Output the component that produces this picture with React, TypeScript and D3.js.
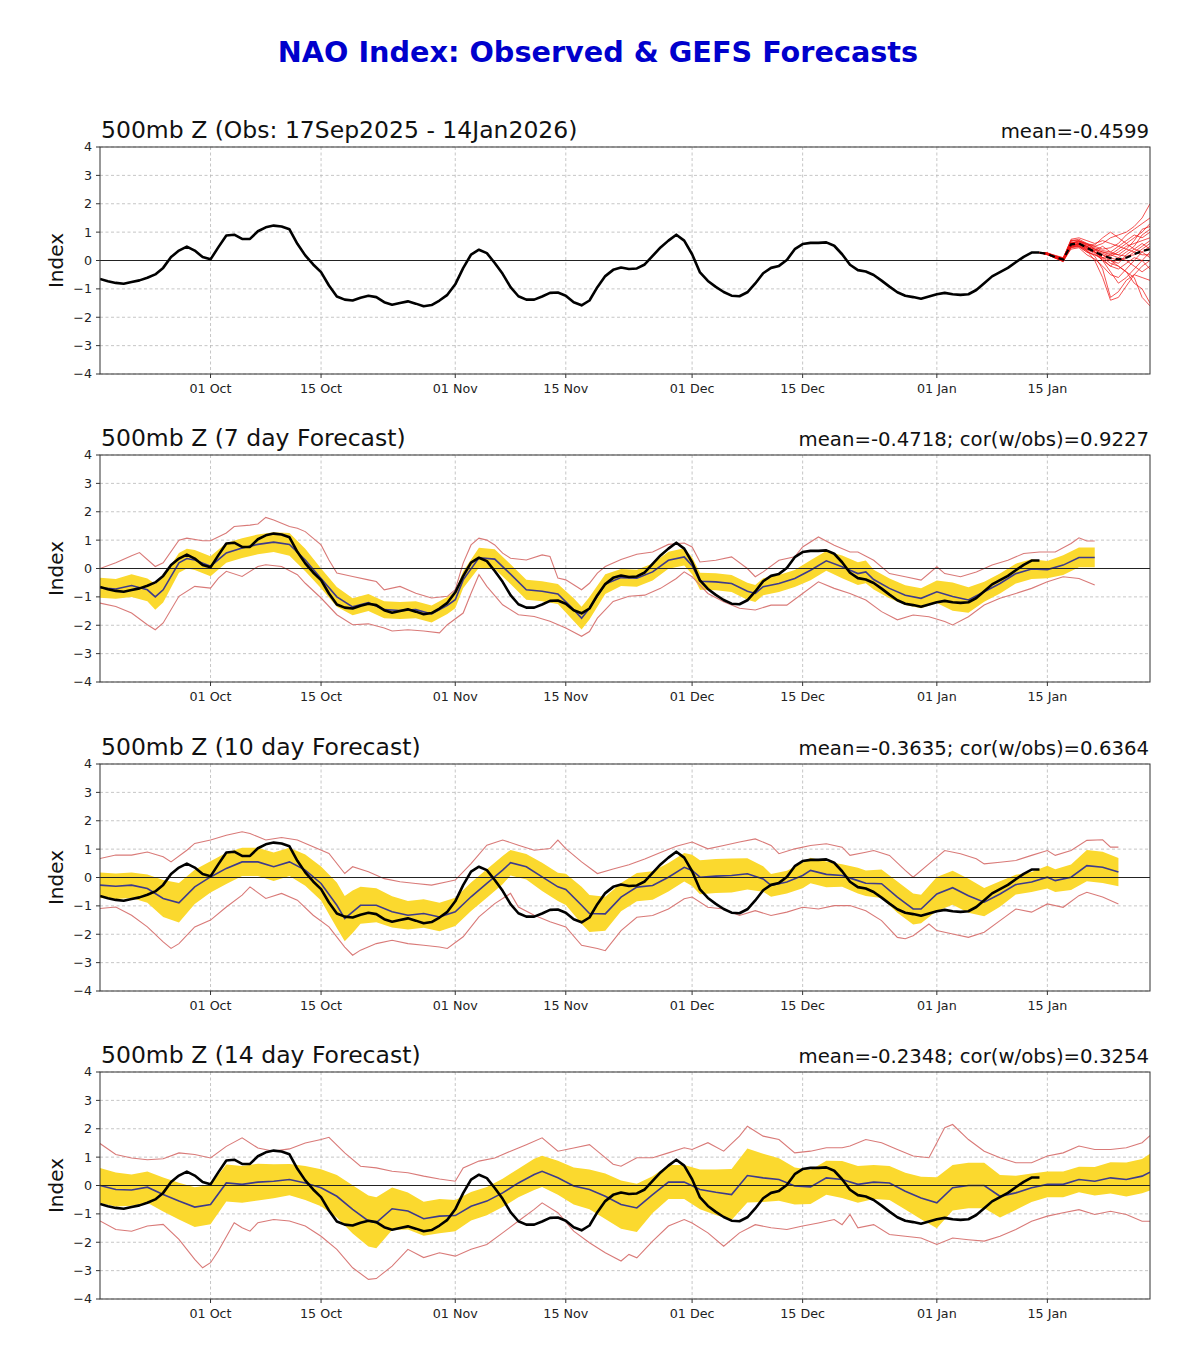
import React from "react";
import * as d3 from "d3";

type P = [string, number];
type B = [string, number, number];

// ---------- data ----------
const obsFirstDay = "09-17";
const obsValues = [
  // Sep 17-30
  -0.65, -0.73, -0.79, -0.82, -0.76, -0.7, -0.61, -0.49, -0.26, 0.12, 0.35, 0.49, 0.35, 0.12,
  // Oct
  0.04, 0.47, 0.88, 0.91, 0.76, 0.76, 1.03, 1.17, 1.23, 1.2, 1.1, 0.59, 0.18, -0.14, -0.41, -0.88,
  -1.27, -1.38, -1.41, -1.31, -1.24, -1.29, -1.47, -1.56, -1.5, -1.44, -1.52, -1.61, -1.57, -1.41, -1.21,
  // Nov
  -0.84, -0.27, 0.21, 0.38, 0.26, -0.09, -0.47, -0.94, -1.26, -1.38, -1.38, -1.27, -1.14, -1.13, -1.24,
  -1.47, -1.58, -1.41, -0.94, -0.55, -0.33, -0.25, -0.3, -0.28, -0.14, 0.16, 0.46, 0.7, 0.91, 0.7,
  // Dec
  0.22, -0.42, -0.72, -0.93, -1.11, -1.24, -1.26, -1.12, -0.81, -0.45, -0.26, -0.19, 0.02, 0.4, 0.58,
  0.62, 0.62, 0.64, 0.52, 0.22, -0.15, -0.34, -0.39, -0.51, -0.71, -0.92, -1.12, -1.24, -1.29, -1.35, -1.27,
  // Jan 1-14
  -1.19, -1.14, -1.19, -1.21, -1.19, -1.04, -0.8, -0.56, -0.41, -0.26, -0.06, 0.13, 0.28, 0.28,
];

const ensDays = ["01-14", "01-15", "01-16", "01-17", "01-18", "01-19", "01-20", "01-21", "01-22", "01-23", "01-24", "01-25", "01-26", "01-27", "01-28"];
const ensMembers: number[][] = [
  [0.28, 0.25, 0.12, 0.02, 0.55, 0.6, 0.45, 0.3, 0.2, 0.1, 0.0, 0.1, 0.3, 0.5, 0.7],
  [0.28, 0.22, 0.15, 0.05, 0.6, 0.7, 0.55, 0.5, 0.6, 0.8, 0.9, 1.0, 1.2, 1.5, 2.0],
  [0.28, 0.2, 0.1, -0.05, 0.45, 0.55, 0.35, 0.0, -0.6, -1.4, -1.3, -0.9, -0.5, -0.2, 0.0],
  [0.28, 0.26, 0.18, 0.1, 0.7, 0.75, 0.6, 0.4, 0.3, 0.2, 0.4, 0.6, 0.8, 1.0, 1.3],
  [0.28, 0.24, 0.08, 0.0, 0.5, 0.5, 0.3, 0.2, 0.05, -0.2, -0.3, -0.1, 0.1, 0.0, -0.3],
  [0.28, 0.23, 0.14, 0.08, 0.65, 0.6, 0.5, 0.4, 0.2, 0.0, -0.2, -0.4, -0.6, -1.3, -1.6],
  [0.28, 0.25, 0.1, 0.03, 0.58, 0.65, 0.55, 0.45, 0.35, 0.3, 0.5, 0.7, 0.9, 0.8, 1.0],
  [0.28, 0.21, 0.12, 0.0, 0.4, 0.45, 0.2, 0.05, -0.2, -0.5, -0.6, -0.3, 0.0, 0.3, 0.5],
  [0.28, 0.27, 0.16, 0.06, 0.75, 0.8, 0.7, 0.6, 0.7, 0.6, 0.5, 0.4, 0.3, 0.2, 0.2],
  [0.28, 0.22, 0.09, -0.02, 0.52, 0.58, 0.4, 0.3, 0.1, -0.1, -0.2, -0.4, -0.8, -1.0, -1.5],
  [0.28, 0.24, 0.13, 0.04, 0.62, 0.62, 0.48, 0.35, 0.25, 0.15, 0.3, 0.5, 0.6, 0.7, 0.8],
  [0.28, 0.2, 0.11, 0.01, 0.48, 0.52, 0.38, 0.25, 0.0, -0.2, 0.1, 0.3, 0.5, 0.9, 1.1],
  [0.28, 0.26, 0.15, 0.07, 0.68, 0.7, 0.58, 0.55, 0.8, 1.0, 0.8, 0.6, 0.4, 0.3, 0.1],
  [0.28, 0.23, 0.1, 0.02, 0.55, 0.5, 0.35, 0.15, -0.3, -1.3, -1.1, -0.7, -0.5, -0.6, -0.7],
  [0.28, 0.25, 0.14, 0.05, 0.6, 0.68, 0.6, 0.5, 0.4, 0.45, 0.6, 0.9, 1.1, 1.3, 1.5],
  [0.28, 0.21, 0.08, -0.03, 0.45, 0.48, 0.3, 0.2, 0.1, 0.2, 0.1, 0.0, -0.2, -0.4, -0.2],
  [0.28, 0.24, 0.12, 0.03, 0.57, 0.55, 0.42, 0.3, 0.1, 0.0, -0.1, 0.2, 0.4, 0.6, 0.4],
  [0.28, 0.22, 0.1, 0.0, 0.5, 0.6, 0.45, 0.35, 0.5, 0.3, 0.2, 0.4, 0.7, 1.1, 1.2],
  [0.28, 0.26, 0.17, 0.09, 0.72, 0.68, 0.5, 0.3, 0.0, -0.4, -0.8, -0.6, -0.3, 0.0, 0.3],
  [0.28, 0.23, 0.11, 0.02, 0.53, 0.58, 0.5, 0.4, 0.3, 0.25, 0.2, 0.15, 0.2, 0.4, 0.6],
];
const ensMean = [0.28, 0.23, 0.12, 0.03, 0.57, 0.6, 0.45, 0.3, 0.18, 0.08, 0.04, 0.1, 0.22, 0.33, 0.4];

const xTickDays = ["10-01", "10-15", "11-01", "11-15", "12-01", "12-15", "01-01", "01-15"];
const xTickLabels = ["01 Oct", "15 Oct", "01 Nov", "15 Nov", "01 Dec", "15 Dec", "01 Jan", "15 Jan"];
const yTicks = [-4, -3, -2, -1, 0, 1, 2, 3, 4];

const mainTitle = "NAO Index: Observed & GEFS Forecasts";
const panelTitles = [
  "500mb Z (Obs: 17Sep2025 - 14Jan2026)",
  "500mb Z (7 day Forecast)",
  "500mb Z (10 day Forecast)",
  "500mb Z (14 day Forecast)",
];
const panelStats = [
  "mean=-0.4599",
  "mean=-0.4718; cor(w/obs)=0.9227",
  "mean=-0.3635; cor(w/obs)=0.6364",
  "mean=-0.2348; cor(w/obs)=0.3254",
];

// [date, ensemble mean, spread half-width]
const fc7Mean: B[] = [
  ["09-17", -0.68, 0.35], ["09-19", -0.72, 0.35], ["09-21", -0.6, 0.4], ["09-23", -0.75, 0.4], ["09-24", -1.0, 0.45],
  ["09-25", -0.75, 0.45], ["09-27", 0.2, 0.35], ["09-28", 0.35, 0.35], ["09-29", 0.3, 0.35], ["10-01", 0.08, 0.35],
  ["10-03", 0.55, 0.35], ["10-05", 0.72, 0.35], ["10-07", 0.85, 0.35], ["10-09", 0.93, 0.35], ["10-11", 0.85, 0.4],
  ["10-13", 0.3, 0.4], ["10-15", -0.35, 0.35], ["10-17", -1.0, 0.35], ["10-19", -1.35, 0.3], ["10-21", -1.2, 0.3],
  ["10-23", -1.45, 0.3], ["10-25", -1.48, 0.3], ["10-27", -1.45, 0.3], ["10-29", -1.6, 0.3], ["10-31", -1.3, 0.3],
  ["11-01", -1.1, 0.3], ["11-02", -0.4, 0.3], ["11-04", 0.38, 0.35], ["11-06", 0.33, 0.35], ["11-08", -0.2, 0.35],
  ["11-10", -0.75, 0.35], ["11-12", -0.8, 0.35], ["11-14", -0.9, 0.35], ["11-16", -1.45, 0.4], ["11-17", -1.75, 0.4],
  ["11-18", -1.4, 0.4], ["11-20", -0.55, 0.35], ["11-22", -0.32, 0.3], ["11-24", -0.34, 0.3], ["11-26", -0.12, 0.3],
  ["11-28", 0.29, 0.3], ["11-30", 0.41, 0.3], ["12-01", 0.1, 0.3], ["12-02", -0.45, 0.3], ["12-04", -0.47, 0.3],
  ["12-06", -0.53, 0.3], ["12-08", -0.8, 0.3], ["12-09", -0.88, 0.3], ["12-10", -0.64, 0.3], ["12-12", -0.53, 0.3],
  ["12-14", -0.35, 0.3], ["12-16", -0.06, 0.35], ["12-18", 0.27, 0.35], ["12-20", 0.06, 0.4], ["12-22", -0.18, 0.4],
  ["12-23", -0.12, 0.4], ["12-24", -0.39, 0.35], ["12-26", -0.7, 0.35], ["12-28", -0.94, 0.35], ["12-30", -1.05, 0.35],
  ["01-01", -0.82, 0.4], ["01-03", -0.99, 0.5], ["01-05", -1.11, 0.45], ["01-07", -0.82, 0.35], ["01-09", -0.53, 0.35],
  ["01-11", -0.18, 0.35], ["01-13", -0.02, 0.35], ["01-15", -0.04, 0.3], ["01-17", 0.12, 0.35], ["01-19", 0.39, 0.35],
  ["01-21", 0.39, 0.35],
];
const fc7Max: P[] = [
  ["09-17", 0.0], ["09-19", 0.2], ["09-21", 0.45], ["09-22", 0.56], ["09-24", 0.07], ["09-25", 0.2], ["09-27", 1.0],
  ["09-28", 1.07], ["09-30", 0.98], ["10-01", 0.98], ["10-03", 1.25], ["10-04", 1.48], ["10-06", 1.53], ["10-07", 1.57],
  ["10-08", 1.8], ["10-09", 1.71], ["10-11", 1.48], ["10-12", 1.42], ["10-13", 1.3], ["10-15", 0.83], ["10-16", 0.3],
  ["10-17", -0.16], ["10-19", -0.28], ["10-21", -0.4], ["10-22", -0.46], ["10-23", -0.75], ["10-25", -0.63],
  ["10-27", -0.87], ["10-29", -1.04], ["10-31", -0.98], ["11-01", -0.75], ["11-02", 0.19], ["11-03", 0.83],
  ["11-04", 1.07], ["11-05", 1.0], ["11-06", 0.83], ["11-07", 0.54], ["11-08", 0.36], ["11-10", 0.3], ["11-12", 0.48],
  ["11-13", 0.42], ["11-14", -0.34], ["11-15", -0.4], ["11-16", -0.57], ["11-17", -0.75], ["11-18", -0.52],
  ["11-19", -0.16], ["11-20", 0.07], ["11-22", 0.32], ["11-24", 0.5], ["11-26", 0.58], ["11-28", 0.85], ["11-30", 0.9],
  ["12-01", 0.76], ["12-02", 0.23], ["12-04", 0.29], ["12-06", 0.41], ["12-08", 0.0], ["12-09", -0.29], ["12-10", -0.12],
  ["12-12", 0.29], ["12-14", 0.41], ["12-15", 0.76], ["12-17", 1.11], ["12-19", 0.82], ["12-21", 0.58], ["12-22", 0.58],
  ["12-24", 0.29], ["12-26", -0.18], ["12-28", -0.29], ["12-30", -0.41], ["01-01", 0.06], ["01-02", -0.18],
  ["01-04", -0.29], ["01-06", -0.12], ["01-08", 0.12], ["01-10", 0.29], ["01-12", 0.53], ["01-14", 0.58],
  ["01-16", 0.58], ["01-18", 0.88], ["01-19", 1.08], ["01-20", 0.97], ["01-21", 0.97],
];
const fc7Min: P[] = [
  ["09-17", -1.22], ["09-19", -1.34], ["09-21", -1.57], ["09-23", -1.98], ["09-24", -2.16], ["09-25", -1.92],
  ["09-27", -0.98], ["09-29", -0.63], ["10-01", -0.69], ["10-02", -0.34], ["10-03", -0.1], ["10-05", -0.28],
  ["10-07", 0.07], ["10-08", 0.13], ["10-10", 0.07], ["10-12", -0.22], ["10-13", -0.52], ["10-15", -1.04],
  ["10-17", -1.63], ["10-19", -1.98], ["10-21", -1.95], ["10-23", -2.1], ["10-24", -2.2], ["10-26", -2.16],
  ["10-28", -2.2], ["10-30", -2.27], ["10-31", -1.98], ["11-02", -1.57], ["11-03", -0.87], ["11-04", -0.22],
  ["11-05", -0.63], ["11-07", -1.28], ["11-09", -1.63], ["11-11", -1.69], ["11-13", -1.86], ["11-15", -2.1],
  ["11-17", -2.39], ["11-18", -2.22], ["11-19", -1.75], ["11-21", -1.16], ["11-23", -0.98], ["11-25", -0.94],
  ["11-27", -0.7], ["11-29", -0.35], ["11-30", -0.12], ["12-01", -0.29], ["12-03", -0.88], ["12-05", -1.17],
  ["12-07", -1.4], ["12-09", -1.46], ["12-11", -1.29], ["12-13", -1.29], ["12-15", -0.88], ["12-17", -0.47],
  ["12-19", -0.7], ["12-21", -0.88], ["12-23", -1.11], ["12-25", -1.52], ["12-27", -1.81], ["12-29", -1.64],
  ["12-31", -1.7], ["01-02", -1.87], ["01-03", -1.99], ["01-05", -1.7], ["01-07", -1.29], ["01-09", -1.05],
  ["01-11", -0.88], ["01-13", -0.7], ["01-15", -0.47], ["01-17", -0.29], ["01-19", -0.35], ["01-21", -0.58],
];

const fc10Mean: B[] = [
  ["09-17", -0.27, 0.45], ["09-19", -0.31, 0.45], ["09-21", -0.27, 0.45], ["09-23", -0.39, 0.5], ["09-25", -0.74, 0.65],
  ["09-27", -0.89, 0.7], ["09-29", -0.33, 0.6], ["10-01", 0.02, 0.55], ["10-03", 0.32, 0.55], ["10-05", 0.55, 0.5],
  ["10-07", 0.55, 0.5], ["10-09", 0.38, 0.5], ["10-11", 0.55, 0.5], ["10-13", 0.26, 0.55], ["10-15", -0.21, 0.6],
  ["10-17", -0.98, 0.8], ["10-18", -1.45, 0.8], ["10-19", -1.21, 0.75], ["10-20", -0.98, 0.65], ["10-22", -0.98, 0.6],
  ["10-24", -1.21, 0.55], ["10-26", -1.33, 0.5], ["10-28", -1.27, 0.5], ["10-30", -1.39, 0.5], ["11-01", -1.21, 0.5],
  ["11-03", -0.68, 0.5], ["11-05", -0.21, 0.5], ["11-07", 0.26, 0.5], ["11-08", 0.52, 0.45], ["11-10", 0.38, 0.45],
  ["11-12", 0.02, 0.5], ["11-14", -0.33, 0.5], ["11-15", -0.42, 0.55], ["11-17", -0.98, 0.65], ["11-18", -1.27, 0.65],
  ["11-20", -1.28, 0.6], ["11-22", -0.69, 0.5], ["11-24", -0.34, 0.5], ["11-26", -0.28, 0.5], ["11-28", 0.01, 0.5],
  ["11-30", 0.36, 0.5], ["12-01", 0.25, 0.55], ["12-02", 0.01, 0.6], ["12-04", 0.05, 0.6], ["12-06", 0.07, 0.6],
  ["12-08", 0.13, 0.55], ["12-10", -0.05, 0.45], ["12-11", -0.28, 0.4], ["12-13", -0.16, 0.4], ["12-15", 0.07, 0.45],
  ["12-16", 0.25, 0.45], ["12-18", 0.11, 0.45], ["12-20", 0.07, 0.4], ["12-22", -0.11, 0.45], ["12-23", -0.2, 0.45],
  ["12-25", -0.22, 0.5], ["12-27", -0.69, 0.55], ["12-29", -1.11, 0.55], ["12-30", -1.11, 0.5], ["01-01", -0.58, 0.6],
  ["01-03", -0.36, 0.6], ["01-05", -0.64, 0.6], ["01-07", -0.87, 0.5], ["01-09", -0.58, 0.45], ["01-11", -0.25, 0.35],
  ["01-13", -0.16, 0.35], ["01-15", 0.01, 0.4], ["01-16", -0.11, 0.4], ["01-18", 0.01, 0.45], ["01-20", 0.42, 0.55],
  ["01-22", 0.36, 0.55], ["01-24", 0.19, 0.5],
];
const fc10Max: P[] = [
  ["09-17", 0.67], ["09-19", 0.79], ["09-21", 0.79], ["09-23", 0.9], ["09-25", 0.73], ["09-26", 0.55], ["09-28", 0.96],
  ["09-29", 1.2], ["10-01", 1.32], ["10-03", 1.49], ["10-05", 1.61], ["10-06", 1.55], ["10-08", 1.32], ["10-10", 1.41],
  ["10-12", 1.32], ["10-14", 1.08], ["10-16", 0.85], ["10-18", 0.14], ["10-19", 0.38], ["10-21", 0.2], ["10-23", -0.04],
  ["10-25", -0.15], ["10-27", -0.21], ["10-29", -0.27], ["10-31", -0.15], ["11-01", -0.09], ["11-03", 0.49],
  ["11-05", 1.14], ["11-07", 1.32], ["11-09", 1.14], ["11-11", 0.96], ["11-13", 1.02], ["11-14", 1.32], ["11-15", 1.02],
  ["11-17", 0.55], ["11-19", 0.14], ["11-21", 0.3], ["11-23", 0.45], ["11-25", 0.65], ["11-27", 0.88], ["11-29", 1.1],
  ["12-01", 1.25], ["12-03", 1.01], ["12-05", 1.13], ["12-07", 1.25], ["12-09", 1.36], ["12-11", 1.13], ["12-12", 0.84],
  ["12-14", 1.01], ["12-16", 1.13], ["12-18", 1.19], ["12-20", 1.07], ["12-21", 0.78], ["12-23", 0.89], ["12-24", 0.95],
  ["12-26", 0.78], ["12-28", 0.25], ["12-29", 0.01], ["12-31", 0.48], ["01-02", 0.95], ["01-04", 0.84], ["01-06", 0.66],
  ["01-07", 0.48], ["01-09", 0.54], ["01-11", 0.6], ["01-13", 0.78], ["01-15", 0.95], ["01-16", 0.78], ["01-18", 0.95],
  ["01-20", 1.31], ["01-22", 1.33], ["01-23", 1.07], ["01-24", 1.07],
];
const fc10Min: P[] = [
  ["09-17", -1.09], ["09-19", -1.04], ["09-21", -1.33], ["09-23", -1.74], ["09-25", -2.27], ["09-26", -2.5],
  ["09-27", -2.33], ["09-29", -1.74], ["10-01", -1.5], ["10-03", -1.04], ["10-05", -0.62], ["10-06", -0.33],
  ["10-08", -0.74], ["10-10", -0.56], ["10-12", -0.8], ["10-14", -1.33], ["10-16", -1.74], ["10-18", -2.45],
  ["10-19", -2.74], ["10-20", -2.56], ["10-22", -2.33], ["10-24", -2.21], ["10-26", -2.33], ["10-28", -2.39],
  ["10-30", -2.45], ["10-31", -2.5], ["11-02", -2.09], ["11-04", -1.39], ["11-06", -0.92], ["11-08", -0.56],
  ["11-09", -1.04], ["11-11", -1.33], ["11-13", -1.56], ["11-15", -1.74], ["11-17", -2.39], ["11-19", -2.5],
  ["11-20", -2.58], ["11-22", -1.87], ["11-24", -1.4], ["11-26", -1.34], ["11-28", -1.11], ["11-30", -0.75],
  ["12-01", -0.69], ["12-03", -1.05], ["12-05", -1.11], ["12-07", -1.34], ["12-09", -1.17], ["12-11", -1.34],
  ["12-13", -1.22], ["12-15", -1.05], ["12-17", -1.11], ["12-19", -0.99], ["12-21", -0.99], ["12-23", -1.17],
  ["12-25", -1.52], ["12-27", -2.11], ["12-28", -2.16], ["12-29", -2.05], ["12-31", -1.64], ["01-01", -1.87],
  ["01-03", -1.99], ["01-05", -2.11], ["01-07", -1.93], ["01-09", -1.52], ["01-11", -1.11], ["01-13", -1.22],
  ["01-15", -0.93], ["01-17", -1.05], ["01-19", -0.64], ["01-20", -0.52], ["01-22", -0.69], ["01-24", -0.93],
];

const fc14Mean: B[] = [
  ["09-17", 0.0, 0.62], ["09-19", -0.14, 0.6], ["09-21", -0.16, 0.55], ["09-23", -0.06, 0.55], ["09-25", -0.32, 0.6],
  ["09-27", -0.55, 0.65], ["09-29", -0.76, 0.7], ["10-01", -0.67, 0.7], ["10-03", 0.09, 0.65], ["10-05", 0.04, 0.65],
  ["10-07", 0.12, 0.65], ["10-09", 0.15, 0.6], ["10-11", 0.21, 0.55], ["10-13", 0.09, 0.6], ["10-15", -0.08, 0.65],
  ["10-17", -0.38, 0.75], ["10-19", -0.84, 0.85], ["10-21", -1.25, 0.9], ["10-22", -1.31, 0.9], ["10-24", -0.82, 0.75],
  ["10-26", -0.9, 0.65], ["10-28", -1.17, 0.6], ["10-30", -1.08, 0.6], ["11-01", -1.06, 0.55], ["11-03", -0.73, 0.5],
  ["11-05", -0.55, 0.5], ["11-07", -0.26, 0.5], ["11-09", 0.09, 0.5], ["11-11", 0.39, 0.55], ["11-12", 0.5, 0.55],
  ["11-14", 0.27, 0.6], ["11-16", -0.02, 0.65], ["11-18", -0.14, 0.7], ["11-20", -0.38, 0.8], ["11-22", -0.67, 0.85],
  ["11-24", -0.79, 0.85], ["11-26", -0.32, 0.65], ["11-28", 0.12, 0.6], ["11-30", 0.12, 0.6], ["12-02", -0.14, 0.7],
  ["12-04", -0.24, 0.8], ["12-06", -0.32, 0.9], ["12-08", 0.35, 0.95], ["12-10", 0.27, 0.85], ["12-12", 0.21, 0.75],
  ["12-14", -0.02, 0.65], ["12-16", -0.05, 0.6], ["12-18", 0.27, 0.6], ["12-20", 0.21, 0.65], ["12-22", 0.04, 0.65],
  ["12-24", 0.12, 0.6], ["12-26", 0.09, 0.6], ["12-28", -0.2, 0.65], ["12-30", -0.44, 0.75], ["01-01", -0.61, 0.9],
  ["01-03", -0.08, 0.8], ["01-05", 0.0, 0.8], ["01-07", 0.0, 0.8], ["01-09", -0.38, 0.75], ["01-11", -0.26, 0.6],
  ["01-13", -0.08, 0.5], ["01-15", 0.04, 0.45], ["01-17", 0.04, 0.45], ["01-19", 0.21, 0.45], ["01-21", 0.15, 0.5],
  ["01-23", 0.27, 0.55], ["01-25", 0.21, 0.6], ["01-27", 0.33, 0.6], ["01-28", 0.47, 0.65],
];
const fc14Max: P[] = [
  ["09-17", 1.48], ["09-19", 1.09], ["09-21", 0.97], ["09-23", 0.91], ["09-25", 0.94], ["09-27", 1.15], ["09-29", 1.09],
  ["10-01", 0.97], ["10-03", 1.38], ["10-05", 1.68], ["10-07", 1.32], ["10-09", 1.21], ["10-11", 1.29], ["10-13", 1.5],
  ["10-15", 1.62], ["10-16", 1.7], ["10-18", 1.15], ["10-20", 0.68], ["10-22", 0.62], ["10-24", 0.5], ["10-26", 0.45],
  ["10-28", 0.33], ["10-30", 0.23], ["11-01", 0.15], ["11-02", 0.62], ["11-04", 0.86], ["11-06", 0.97], ["11-08", 1.21],
  ["11-10", 1.44], ["11-12", 1.68], ["11-14", 1.21], ["11-16", 1.32], ["11-18", 1.44], ["11-19", 1.21], ["11-21", 0.75],
  ["11-22", 0.68], ["11-24", 0.98], ["11-26", 0.98], ["11-28", 1.15], ["11-30", 1.33], ["12-01", 1.27], ["12-03", 1.51],
  ["12-05", 1.21], ["12-07", 1.74], ["12-08", 2.09], ["12-10", 1.74], ["12-12", 1.62], ["12-14", 1.15], ["12-16", 1.21],
  ["12-18", 1.33], ["12-20", 1.33], ["12-21", 1.39], ["12-23", 1.62], ["12-25", 1.51], ["12-27", 1.27], ["12-29", 1.04],
  ["12-31", 0.98], ["01-01", 1.51], ["01-02", 2.04], ["01-03", 2.15], ["01-05", 1.62], ["01-07", 1.21], ["01-09", 0.98],
  ["01-11", 0.8], ["01-13", 0.8], ["01-15", 1.04], ["01-17", 1.15], ["01-19", 1.39], ["01-21", 1.27], ["01-23", 1.27],
  ["01-25", 1.33], ["01-27", 1.51], ["01-28", 1.76],
];
const fc14Min: P[] = [
  ["09-17", -1.25], ["09-19", -1.55], ["09-21", -1.61], ["09-23", -1.43], ["09-25", -1.37], ["09-27", -1.9],
  ["09-29", -2.6], ["09-30", -2.9], ["10-01", -2.72], ["10-02", -2.3], ["10-04", -1.31], ["10-05", -1.49],
  ["10-06", -1.61], ["10-07", -1.31], ["10-09", -1.2], ["10-11", -1.25], ["10-13", -1.43], ["10-15", -1.79],
  ["10-17", -2.25], ["10-19", -2.9], ["10-21", -3.31], ["10-22", -3.28], ["10-24", -2.84], ["10-26", -2.25],
  ["10-28", -2.54], ["10-30", -2.37], ["11-01", -2.49], ["11-03", -2.25], ["11-05", -2.08], ["11-07", -1.67],
  ["11-09", -1.25], ["11-11", -0.84], ["11-12", -0.61], ["11-14", -0.96], ["11-16", -1.61], ["11-18", -2.02],
  ["11-20", -2.37], ["11-22", -2.66], ["11-23", -2.43], ["11-24", -2.55], ["11-26", -1.96], ["11-28", -1.43],
  ["11-30", -1.2], ["12-01", -1.32], ["12-03", -1.67], ["12-05", -2.14], ["12-07", -1.67], ["12-09", -1.38],
  ["12-11", -1.49], ["12-13", -1.55], ["12-15", -1.43], ["12-17", -1.32], ["12-19", -1.2], ["12-20", -1.38],
  ["12-21", -1.02], ["12-22", -1.49], ["12-24", -1.38], ["12-26", -1.73], ["12-28", -1.79], ["12-30", -1.85],
  ["01-01", -2.08], ["01-03", -1.85], ["01-05", -1.91], ["01-07", -1.96], ["01-09", -1.79], ["01-11", -1.55],
  ["01-13", -1.26], ["01-15", -1.08], ["01-17", -0.96], ["01-19", -0.85], ["01-21", -1.02], ["01-23", -0.91],
  ["01-25", -1.02], ["01-27", -1.26], ["01-28", -1.26],
];

// ---------- helpers ----------
function toDate(md: string): Date {
  const [m, d] = md.split("-").map(Number);
  return new Date(m >= 9 ? 2025 : 2026, m - 1, d);
}

const W = 1200;
const H = 1348;
const LEFT = 100;
const RIGHT = 1150;
const PANEL_TOPS = [147, 455, 764, 1072];
const PANEL_H = 227;
const FONT = "DejaVu Sans, Liberation Sans, sans-serif";

const x = d3.scaleTime().domain([toDate("09-17"), toDate("01-28")]).range([LEFT, RIGHT]);

const obsStart = toDate(obsFirstDay);
const obsSeries: [Date, number][] = obsValues.map((v, i) => [d3.timeDay.offset(obsStart, i), v]);

type FC = { mean: B[]; max: P[]; min: P[] };
const forecasts: (FC | null)[] = [
  null,
  { mean: fc7Mean, max: fc7Max, min: fc7Min },
  { mean: fc10Mean, max: fc10Max, min: fc10Min },
  { mean: fc14Mean, max: fc14Max, min: fc14Min },
];

function Panel({ idx }: { idx: number }) {
  const top = PANEL_TOPS[idx];
  const bottom = top + PANEL_H;
  const y = d3.scaleLinear().domain([-4, 4]).range([bottom, top]);
  const fc = forecasts[idx];

  const obsLine = d3.line<[Date, number]>().x((d) => x(d[0])).y((d) => y(d[1]))(obsSeries) || "";
  const pLine = d3.line<P>().x((d) => x(toDate(d[0]))).y((d) => y(d[1]));
  const bArea = d3
    .area<B>()
    .x((d) => x(toDate(d[0])))
    .y0((d) => y(d[1] - d[2]))
    .y1((d) => y(d[1] + d[2]));
  const bLine = d3.line<B>().x((d) => x(toDate(d[0]))).y((d) => y(d[1]));
  const eLine = d3.line<number>().x((_, i) => x(toDate(ensDays[i]))).y((d) => y(d));
  const clipId = `clip${idx}`;

  return (
    <g>
      <defs>
        <clipPath id={clipId}>
          <rect x={LEFT} y={top} width={RIGHT - LEFT} height={PANEL_H} />
        </clipPath>
      </defs>
      {/* grid */}
      {yTicks.map((v) => (
        <line key={"gy" + v} x1={LEFT} x2={RIGHT} y1={y(v)} y2={y(v)} stroke="#b8b8b8" strokeWidth={0.8} strokeDasharray="3,2.5" />
      ))}
      {xTickDays.map((d) => (
        <line key={"gx" + d} x1={x(toDate(d))} x2={x(toDate(d))} y1={top} y2={bottom} stroke="#b8b8b8" strokeWidth={0.8} strokeDasharray="3,2.5" />
      ))}
      <g clipPath={`url(#${clipId})`}>
        {fc && (
          <>
            <path d={bArea(fc.mean) || ""} fill="#fbd92e" stroke="none" />
            <path d={pLine(fc.max) || ""} fill="none" stroke="#d97a78" strokeWidth={1.1} />
            <path d={pLine(fc.min) || ""} fill="none" stroke="#d97a78" strokeWidth={1.1} />
            <path d={bLine(fc.mean) || ""} fill="none" stroke="#3d3a8c" strokeWidth={1.6} />
          </>
        )}
        <line x1={LEFT} x2={RIGHT} y1={y(0)} y2={y(0)} stroke="#222" strokeWidth={1} />
        <path d={obsLine} fill="none" stroke="#000" strokeWidth={2.6} strokeLinejoin="round" />
        {idx === 0 && (
          <>
            {ensMembers.map((m, i) => (
              <path key={"e" + i} d={eLine(m) || ""} fill="none" stroke="#f01010" strokeOpacity={0.72} strokeWidth={1} />
            ))}
            <path d={eLine(ensMean) || ""} fill="none" stroke="#000" strokeWidth={2.2} strokeDasharray="6,4" />
          </>
        )}
      </g>
      {/* frame */}
      <rect x={LEFT} y={top} width={RIGHT - LEFT} height={PANEL_H} fill="none" stroke="#333" strokeWidth={1} />
      {/* y ticks */}
      {yTicks.map((v) => (
        <g key={"ty" + v}>
          <line x1={LEFT - 4} x2={LEFT} y1={y(v)} y2={y(v)} stroke="#333" strokeWidth={1} />
          <text x={LEFT - 8} y={y(v)} dy="0.35em" textAnchor="end" fontSize={12.7} fontFamily={FONT} fill="#222">
            {v < 0 ? "\u2212" + Math.abs(v) : String(v)}
          </text>
        </g>
      ))}
      {/* x ticks */}
      {xTickDays.map((d, i) => (
        <g key={"tx" + d}>
          <line x1={x(toDate(d))} x2={x(toDate(d))} y1={bottom} y2={bottom + 4} stroke="#333" strokeWidth={1} />
          <text x={x(toDate(d))} y={bottom + 19} textAnchor="middle" fontSize={12.7} fontFamily={FONT} fill="#222">
            {xTickLabels[i]}
          </text>
        </g>
      ))}
      <text
        transform={`translate(63,${(top + bottom) / 2}) rotate(-90)`}
        textAnchor="middle"
        fontSize={20}
        fontFamily={FONT}
        fill="#111"
      >
        Index
      </text>
      <text x={LEFT + 1} y={top - 9} fontSize={23.5} fontFamily={FONT} fill="#111">
        {panelTitles[idx]}
      </text>
      <text x={RIGHT - 1} y={top - 9} textAnchor="end" fontSize={19.7} fontFamily={FONT} fill="#111">
        {panelStats[idx]}
      </text>
    </g>
  );
}

export default function App() {
  return (
    <svg
      width={W}
      height={H}
      viewBox={`0 0 ${W} ${H}`}
      style={{ position: "absolute", left: 0, top: 0, background: "#fff" }}
    >
      <rect x={0} y={0} width={W} height={H} fill="#fff" />
      <text x={598} y={62} textAnchor="middle" fontSize={28.7} fontWeight="bold" fontFamily={FONT} fill="#0000cc">
        {mainTitle}
      </text>
      {[0, 1, 2, 3].map((i) => (
        <Panel key={i} idx={i} />
      ))}
    </svg>
  );
}
